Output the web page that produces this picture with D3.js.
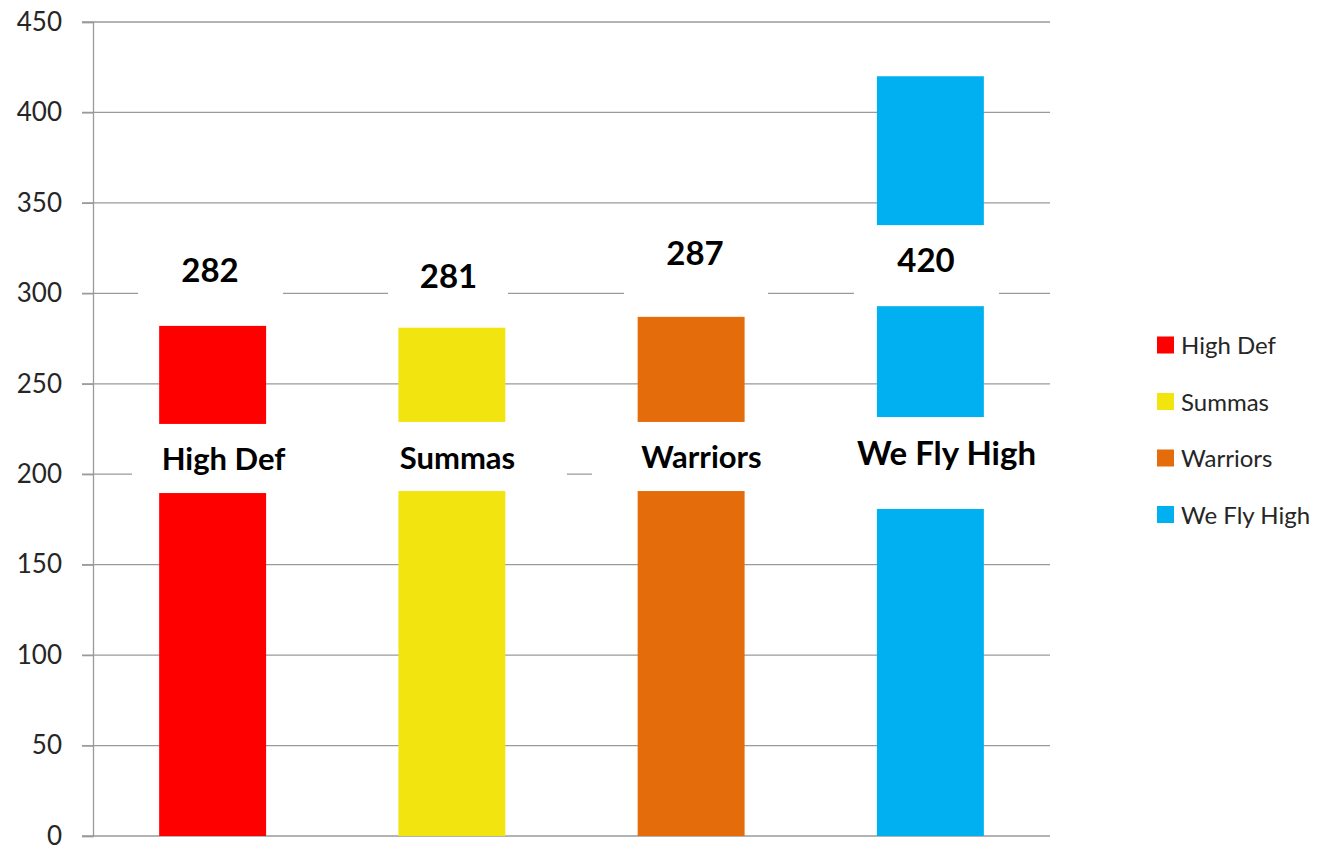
<!DOCTYPE html>
<html>
<head>
<meta charset="utf-8">
<script src="https://cdn.jsdelivr.net/npm/d3@7"></script>
<style>
  body { margin: 0; background: #fff; }
  text { font-family: Lato, "Open Sans", sans-serif; }
</style>
</head>
<body>
<div id="chart"></div>
<script>
const width = 1339;
const height = 850;

//-------data-------//
const teams = ["High Def", "Summas", "Warriors", "We Fly High"];
const scores = [282, 281, 287, 420];
const teamColors = ["#FF0000", "#F2E50F", "#E46C0A", "#00B0F0"];
const yTicks = [0, 50, 100, 150, 200, 250, 300, 350, 400, 450];

//-------label placement (dx from bar centre in px, y in data units)-------//
const valueLabelPos = [
  { dx: -2.6, base: 306.3, box: [-74.6, 70.4, 329.5, 286.4] },
  { dx: -3.4, base: 302.9, box: [-63.9, 56.1, 326.2, 285.3] },
  { dx: 3.9, base: 315.7, box: [-67.1, 76.9, 338.3, 291.9] },
  { dx: -4.4, base: 311.8, box: [-76.4, 68.6, 337.7, 292.9] },
];
const nameLabelPos = [
  { dx: 10.9, base: 202.3, size: 31, box: [-80.6, 135, 227.8, 189.6] },
  { dx: 5.6, base: 202.9, size: 31, box: [-116.9, 115.1, 228.9, 190.7] },
  { dx: 10.4, base: 203.4, size: 31, box: [-99.1, 118.9, 228.9, 190.7] },
  { dx: 16.1, base: 205.1, size: 33, box: [-120.4, 124.6, 231.6, 180.8] },
];

const svg = d3
  .select("#chart")
  .append("svg")
  .attr("width", width)
  .attr("height", height);

const x = d3.scaleBand().domain(teams).range([93, 1050]).paddingInner(0.553).paddingOuter(0.2765);
const y = d3.scaleLinear().domain([0, 450]).range([836, 22]);
const color = d3.scaleOrdinal().domain(teams).range(teamColors);
const mid = (t) => x(t) + x.bandwidth() / 2;

//-------grid-------//
svg
  .append("g")
  .selectAll("line")
  .data(yTicks)
  .join("line")
  .attr("x1", 82)
  .attr("x2", 1050)
  .attr("y1", (d) => y(d))
  .attr("y2", (d) => y(d))
  .attr("stroke", "#9a9a9a")
  .attr("stroke-width", 1.3);

//-------bars-------//
svg
  .append("g")
  .selectAll("rect")
  .data(teams)
  .join("rect")
  .attr("x", (d) => x(d))
  .attr("width", x.bandwidth())
  .attr("y", (d, i) => y(scores[i]))
  .attr("height", (d, i) => y(0) - y(scores[i]))
  .attr("fill", (d) => color(d));

//-------white label boxes-------//
const boxes = svg.append("g");
[valueLabelPos, nameLabelPos].forEach((pos) => {
  boxes
    .append("g")
    .selectAll("rect")
    .data(teams)
    .join("rect")
    .attr("x", (d, i) => mid(d) + pos[i].box[0])
    .attr("width", (d, i) => pos[i].box[1] - pos[i].box[0])
    .attr("y", (d, i) => y(pos[i].box[2]))
    .attr("height", (d, i) => y(pos[i].box[3]) - y(pos[i].box[2]))
    .attr("fill", "#fff");
});

svg
  .append("g")
  .selectAll("text")
  .data(teams)
  .join("text")
  .attr("x", (d, i) => mid(d) + valueLabelPos[i].dx)
  .attr("y", (d, i) => y(valueLabelPos[i].base))
  .attr("text-anchor", "middle")
  .attr("font-size", 33)
  .attr("font-weight", "bold")
  .attr("fill", "#000")
  .text((d, i) => scores[i]);

svg
  .append("g")
  .selectAll("text")
  .data(teams)
  .join("text")
  .attr("x", (d, i) => mid(d) + nameLabelPos[i].dx)
  .attr("y", (d, i) => y(nameLabelPos[i].base))
  .attr("text-anchor", "middle")
  .attr("font-size", (d, i) => nameLabelPos[i].size)
  .attr("font-weight", "bold")
  .attr("fill", "#000")
  .text((d) => d);

//-------y axis-------//
const yAxis = svg
  .append("g")
  .attr("transform", "translate(93,0)")
  .call(d3.axisLeft(y).tickValues(yTicks).tickSize(11).tickPadding(20));
yAxis.select(".domain").attr("stroke", "#9a9a9a").attr("stroke-width", 1.3);
yAxis.selectAll(".tick line").attr("stroke", "#9a9a9a").attr("stroke-width", 1.3);
yAxis
  .selectAll(".tick text")
  .attr("font-family", "Lato, 'Open Sans', sans-serif")
  .attr("font-size", 26)
  .attr("fill", "#262626");

//-------legend-------//
const legend = svg
  .append("g")
  .selectAll("g")
  .data(teams)
  .join("g")
  .attr("transform", (d, i) => `translate(1157,${345 + i * 56.5})`);
legend
  .append("rect")
  .attr("y", -8.5)
  .attr("width", 17)
  .attr("height", 17)
  .attr("fill", (d) => color(d));
legend
  .append("text")
  .attr("x", 24)
  .attr("y", 9)
  .attr("font-size", 24)
  .attr("fill", "#262626")
  .text((d) => d);
</script>
</body>
</html>
